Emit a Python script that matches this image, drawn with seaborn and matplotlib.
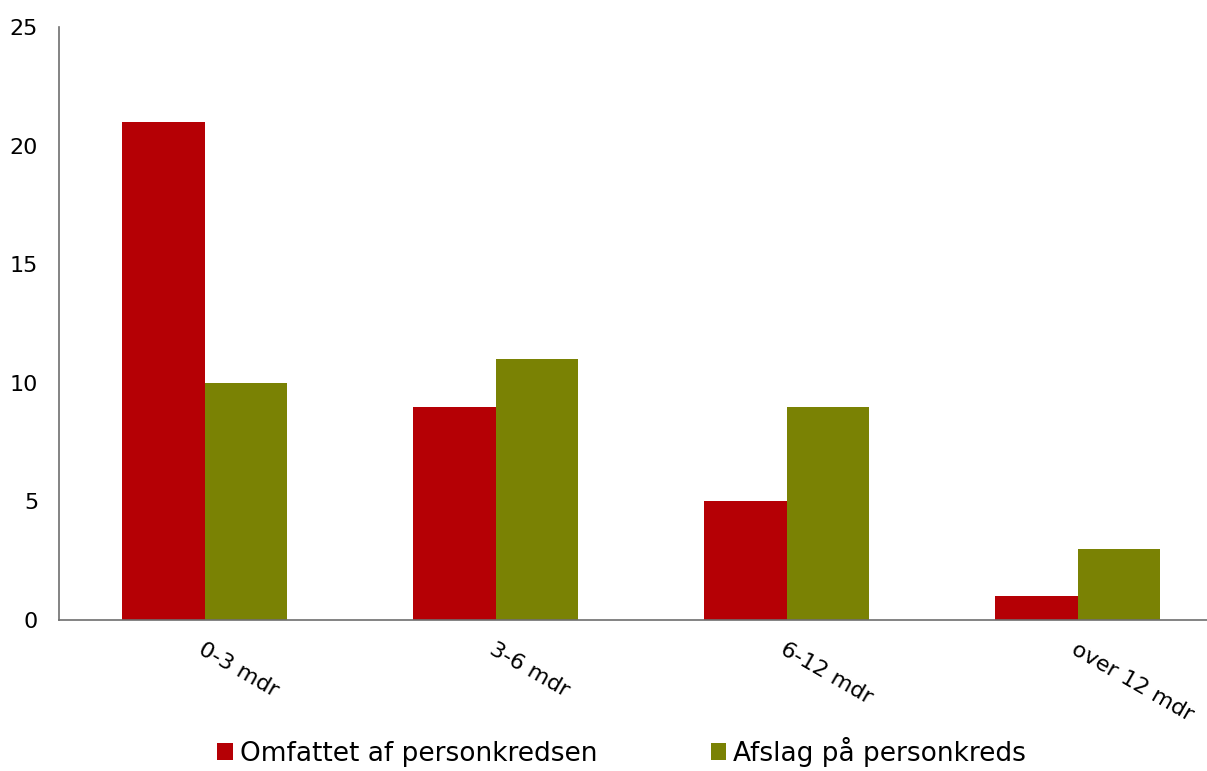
import pandas as pd
import matplotlib
matplotlib.use('Agg')
import matplotlib.pyplot as plt
import seaborn as sns

categories = ['0-3 mdr', '3-6 mdr', '6-12 mdr', 'over 12 mdr']
omfattet = [21, 9, 5, 1]
afslag = [10, 11, 9, 3]
series_names = ['Omfattet af personkredsen', 'Afslag på personkreds']
colors = ['#B50005', '#7A8204']

df = pd.DataFrame({
    'Periode': categories * 2,
    'Antal': omfattet + afslag,
    'Serie': [series_names[0]] * len(categories) + [series_names[1]] * len(categories),
})

sns.set_style('white')
plt.rcParams['font.family'] = ['DejaVu Sans']
plt.rcParams['text.color'] = 'black'
plt.rcParams['xtick.color'] = 'black'
plt.rcParams['ytick.color'] = 'black'

fig = plt.figure(figsize=(12.07, 7.71), dpi=100)
ax = fig.add_axes([59 / 1207, 1 - 620 / 771, 1 - 59 / 1207, (620 - 27) / 771])

sns.barplot(data=df, x='Periode', y='Antal', hue='Serie', palette=colors,
            width=0.57, gap=0, ax=ax, legend=True, saturation=1, linewidth=0)

ax.set_xlim(-0.5, 3.445)
ax.set_ylim(0, 25)
ax.set_yticks([0, 5, 10, 15, 20, 25])
ax.set_xlabel('')
ax.set_ylabel('')
for s in ['top', 'right']:
    ax.spines[s].set_visible(False)
for s in ['left', 'bottom']:
    ax.spines[s].set_color('#6e6e6e')
    ax.spines[s].set_linewidth(1.2)
ax.tick_params(axis='both', length=0, labelsize=16, labelcolor='black')
ax.tick_params(axis='y', pad=15)
ax.tick_params(axis='x', pad=14)
for lbl in ax.get_xticklabels():
    lbl.set_rotation(-30)
    lbl.set_rotation_mode('anchor')
    lbl.set_ha('left')
    lbl.set_va('top')

handles, labels = ax.get_legend_handles_labels()
ax.get_legend().remove()
fig.legend(handles, labels, loc='center', bbox_to_anchor=(0.515, 1 - 752 / 771),
           ncol=2, frameon=False, fontsize=19, handlelength=0.6, handleheight=0.6,
           handletextpad=0.25, columnspacing=4.3)

fig.savefig('out.png', dpi=100)
